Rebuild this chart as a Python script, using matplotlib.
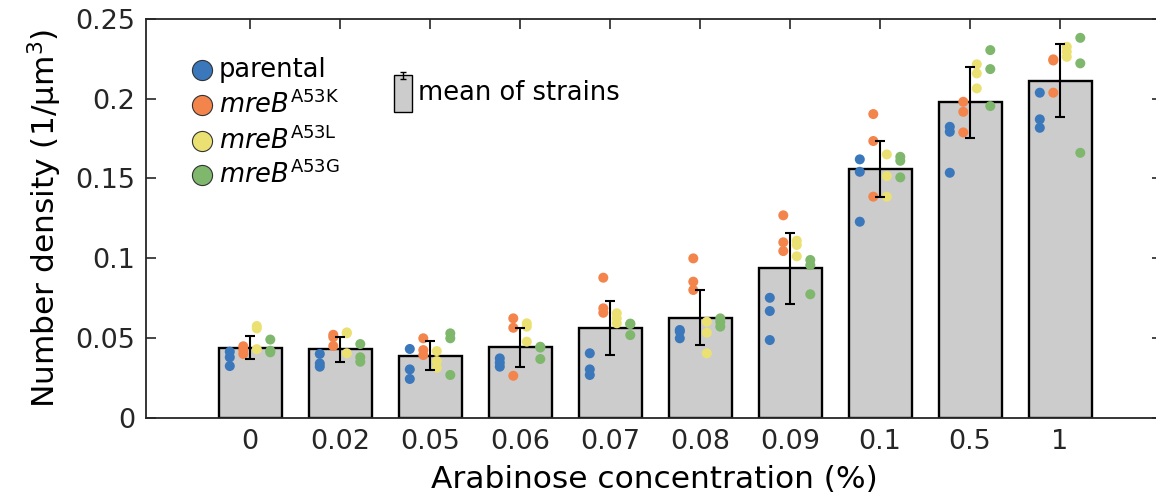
import numpy as np
import matplotlib.pyplot as plt

# arabinose concentrations (%) shown as categories
conc_labels = ['0', '0.02', '0.05', '0.06', '0.07', '0.08', '0.09', '0.1', '0.5', '1']

# mean of strains and its error
bar_mean = [0.0439, 0.0429, 0.0389, 0.0441, 0.0564, 0.0627, 0.0937, 0.1559, 0.1977, 0.2113]
bar_err = [0.0073, 0.0078, 0.0090, 0.0120, 0.0170, 0.0172, 0.0223, 0.0177, 0.0221, 0.0229]

# replicate number densities (1/um^3) per strain, 3 per concentration
parental = [
    [0.0414, 0.0379, 0.0324], [0.0400, 0.0340, 0.0320], [0.0431, 0.0303, 0.0243],
    [0.0372, 0.0345, 0.0320], [0.0404, 0.0303, 0.0268], [0.0550, 0.0540, 0.0498],
    [0.0752, 0.0669, 0.0487], [0.1620, 0.1542, 0.1229], [0.1824, 0.1793, 0.1536],
    [0.2038, 0.1871, 0.1818],
]
a53k = [
    [0.0448, 0.0425, 0.0400], [0.0520, 0.0505, 0.0450], [0.0498, 0.0424, 0.0393],
    [0.0623, 0.0564, 0.0263], [0.0878, 0.0686, 0.0658], [0.0999, 0.0853, 0.0801],
    [0.1269, 0.1100, 0.1045], [0.1904, 0.1735, 0.1386], [0.1981, 0.1918, 0.1789],
    [0.2247, 0.2240, 0.2038],
]
a53l = [
    [0.0575, 0.0560, 0.0430], [0.0535, 0.0529, 0.0404], [0.0418, 0.0355, 0.0313],
    [0.0592, 0.0571, 0.0477], [0.0655, 0.0623, 0.0592], [0.0602, 0.0533, 0.0404],
    [0.1110, 0.1083, 0.1012], [0.1651, 0.1515, 0.1386], [0.2216, 0.2159, 0.2065],
    [0.2326, 0.2295, 0.2263],
]
a53g = [
    [0.0490, 0.0420, 0.0410], [0.0462, 0.0379, 0.0351], [0.0529, 0.0498, 0.0268],
    [0.0445, 0.0440, 0.0368], [0.0590, 0.0587, 0.0518], [0.0623, 0.0600, 0.0571],
    [0.0989, 0.0957, 0.0774], [0.1636, 0.1611, 0.1507], [0.2305, 0.2186, 0.1954],
    [0.2382, 0.2222, 0.1661],
]

strains = [parental, a53k, a53l, a53g]
strain_names = ['parental', r'$\mathit{mreB}^{\mathrm{A53K}}$',
                r'$\mathit{mreB}^{\mathrm{A53L}}$', r'$\mathit{mreB}^{\mathrm{A53G}}$']
strain_colors = ['#3a77bb', '#f3844c', '#ebe173', '#7fb76c']
offsets = [-0.225, -0.075, 0.075, 0.225]

plt.rcParams['font.family'] = 'DejaVu Sans'
plt.rcParams['mathtext.fontset'] = 'dejavusans'
text_color = '#262626'

fig = plt.figure(figsize=(11.56, 4.99), dpi=100)
ax = fig.add_axes([0.1263, 0.1629, 0.8789, 0.799])

x = np.arange(len(conc_labels))
ax.bar(x, bar_mean, width=0.7, color='#cccccc', edgecolor='black', linewidth=1.7, zorder=2)

for data, color, off in zip(strains, strain_colors, offsets):
    for i, vals in enumerate(data):
        ax.scatter([x[i] + off] * len(vals), vals, s=52, color=color,
                   edgecolors='none', zorder=3)

ax.errorbar(x, bar_mean, yerr=bar_err, fmt='none', ecolor='black',
            elinewidth=1.5, capsize=3.6, capthick=1.5, zorder=4)

ax.set_xlim(-1.156, 10.133)
ax.set_ylim(0, 0.25)
ax.set_xticks(x)
ax.set_xticklabels(conc_labels)
ax.set_yticks([0, 0.05, 0.1, 0.15, 0.2, 0.25])
ax.set_yticklabels(['0', '0.05', '0.1', '0.15', '0.2', '0.25'])
ax.tick_params(direction='in', length=7.2, width=1.2, colors=text_color,
               labelsize=19.5, top=True, right=True, pad=8)
for sp in ax.spines.values():
    sp.set_color(text_color)
    sp.set_linewidth(1.3)

ax.set_xlabel('Arabinose concentration (%)', fontsize=22.5, color='black', labelpad=7)
ax.set_ylabel('Number density (1/μm$^3$)', fontsize=22.5, color='black', labelpad=8)

# strain legend
leg_y = [0.872, 0.784, 0.694, 0.609]
for yy, name, color in zip(leg_y, strain_names, strain_colors):
    ax.scatter([0.0548], [yy], s=210, color=color, edgecolors='#333333',
               linewidths=0.8, transform=ax.transAxes, zorder=5, clip_on=False)
    ax.text(0.0718, yy, name, transform=ax.transAxes, fontsize=18.5,
            va='center', ha='left', color='black')

# mean-of-strains legend entry
ax.add_patch(plt.Rectangle((0.244, 0.767), 0.018, 0.092, transform=ax.transAxes,
                           facecolor='#cccccc', edgecolor='black', linewidth=1.0, zorder=5))
ax.errorbar([0.253], [0.858], yerr=[0.009], transform=ax.transAxes, fmt='none',
            ecolor='black', elinewidth=1.0, capsize=2.5, capthick=1.0, zorder=6)
ax.text(0.268, 0.815, 'mean of strains', transform=ax.transAxes, fontsize=18.5,
        va='center', ha='left', color='black')

fig.savefig('out.png', dpi=100)
